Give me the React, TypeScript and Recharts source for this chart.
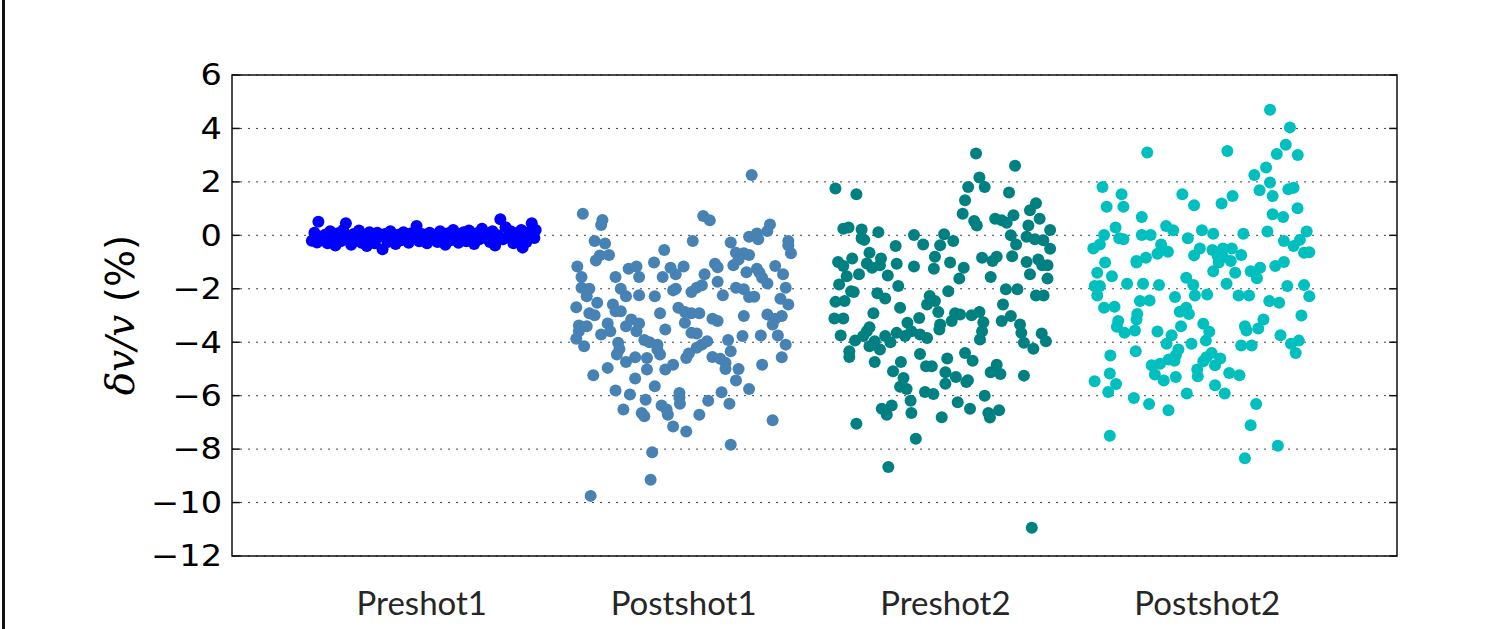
import { CartesianGrid, ReferenceArea, ReferenceLine, Scatter, ScatterChart, XAxis, YAxis } from 'recharts';

// group names, in x order
const groups = ['Preshot1', 'Postshot1', 'Preshot2', 'Postshot2'];
const colors = ['#0000ff', '#4682b4', '#008080', '#00bfbf'];
const yTicks = [-12, -10, -8, -6, -4, -2, 0, 2, 4, 6];
const xDomain: [number, number] = [0.275, 4.725];

// [jitter offset from group centre, δv/v %]
const preshot1: [number, number][] = [
  [-0.42, -0.2], [-0.41, 0.1], [-0.4, -0.27], [-0.395, 0.51], [-0.38, -0.05], [-0.37, 0.02], [-0.36, -0.3], [-0.35, 0.15],
  [-0.34, -0.12], [-0.33, -0.38], [-0.32, 0.08], [-0.31, -0.22], [-0.3, 0.2], [-0.29, 0.45], [-0.28, -0.1], [-0.27, -0.35],
  [-0.26, 0.05], [-0.25, -0.18], [-0.24, 0.18], [-0.23, -0.28], [-0.22, 0.0], [-0.21, -0.4], [-0.2, 0.12], [-0.19, -0.15],
  [-0.18, -0.3], [-0.17, 0.1], [-0.16, -0.05], [-0.15, -0.52], [-0.14, 0.05], [-0.13, -0.25], [-0.12, 0.15], [-0.11, -0.1],
  [-0.1, -0.32], [-0.09, 0.02], [-0.08, -0.18], [-0.07, 0.12], [-0.06, -0.05], [-0.05, -0.28], [-0.04, 0.08], [-0.03, -0.12],
  [-0.02, 0.35], [-0.01, -0.22], [0.0, 0.05], [0.01, -0.08], [0.02, -0.3], [0.03, 0.1], [0.04, -0.15], [0.05, 0.0],
  [0.06, -0.25], [0.07, 0.15], [0.08, -0.05], [0.09, -0.35], [0.1, 0.08], [0.11, -0.18], [0.12, 0.2], [0.13, -0.1],
  [0.14, -0.28], [0.15, 0.05], [0.16, 0.12], [0.17, -0.22], [0.18, 0.18], [0.19, -0.05], [0.2, -0.32], [0.21, 0.08],
  [0.22, -0.15], [0.23, 0.25], [0.24, -0.08], [0.25, 0.05], [0.26, -0.25], [0.27, 0.15], [0.28, -0.38], [0.29, 0.0],
  [0.3, 0.6], [0.31, -0.15], [0.32, 0.3], [0.33, -0.05], [0.34, 0.15], [0.35, -0.3], [0.36, 0.08], [0.37, -0.18],
  [0.38, 0.2], [0.385, -0.46], [0.39, 0.02], [0.4, -0.25], [0.41, 0.12], [0.42, 0.45], [0.43, -0.1], [0.435, 0.2],
];

const postshot1: [number, number][] = [
  [0.26, 2.26], [-0.385, 0.81], [-0.31, 0.57], [-0.315, 0.39], [0.075, 0.72], [0.1, 0.56], [0.33, 0.41], [0.32, 0.16],
  [0.28, 0.07], [0.25, -0.05], [0.285, -0.15], [-0.34, -0.21], [-0.3, -0.31], [0.035, -0.21], [0.18, -0.27], [0.4, -0.21],
  [0.4, -0.37], [0.41, -0.67], [-0.32, -0.75], [-0.285, -0.74], [-0.335, -0.94], [-0.074, -0.55], [0.2, -0.65], [0.23, -0.67],
  [0.25, -0.74], [0.21, -0.9], [0.19, -1.12], [-0.406, -1.17], [-0.113, -1.02], [-0.21, -1.25], [-0.18, -1.17], [-0.05, -1.21],
  [0.0, -1.17], [0.12, -1.06], [0.13, -1.19], [0.28, -1.25], [0.29, -1.4], [0.35, -1.15], [0.24, -1.38], [-0.39, -1.56],
  [-0.26, -1.56], [-0.17, -1.56], [-0.08, -1.56], [-0.03, -1.46], [0.08, -1.46], [0.13, -1.74], [0.3, -1.59], [0.32, -1.8],
  [0.38, -1.46], [0.39, -1.96], [-0.39, -1.96], [-0.36, -2.0], [-0.37, -2.28], [-0.24, -2.0], [-0.22, -2.28], [-0.17, -2.24],
  [-0.11, -2.28], [-0.04, -2.06], [-0.03, -2.0], [0.03, -2.12], [0.05, -1.96], [0.07, -1.87], [0.15, -2.24], [0.2, -1.96],
  [0.23, -2.02], [0.25, -2.31], [0.27, -2.3], [0.37, -2.37], [0.4, -2.59], [-0.41, -2.69], [-0.33, -2.52], [-0.36, -2.92],
  [-0.34, -2.99], [-0.27, -2.59], [-0.26, -2.84], [-0.24, -2.84], [-0.09, -2.92], [-0.02, -2.71], [0.005, -2.87], [0.03, -2.92],
  [0.06, -2.92], [0.005, -3.27], [0.11, -3.12], [0.13, -3.21], [0.23, -3.02], [0.32, -2.96], [0.35, -3.12], [0.375, -3.02],
  [0.34, -3.34], [-0.4, -3.37], [-0.37, -3.4], [-0.29, -3.3], [-0.2, -3.15], [-0.17, -3.3], [-0.22, -3.4], [-0.07, -3.52],
  [-0.41, -3.87], [-0.38, -4.15], [-0.4, -3.59], [-0.315, -3.71], [-0.28, -3.59], [-0.18, -3.59], [0.03, -3.65], [0.05, -3.67],
  [-0.25, -4.02], [-0.245, -4.25], [-0.255, -4.46], [-0.22, -4.74], [-0.185, -4.56], [-0.15, -3.92], [-0.13, -4.0], [-0.1, -4.09],
  [-0.1, -4.27], [-0.09, -4.46], [-0.14, -4.59], [-0.14, -5.02], [-0.345, -5.24], [-0.29, -4.96], [-0.185, -5.36], [-0.11, -5.65],
  [-0.07, -5.02], [-0.04, -4.84], [0.01, -4.59], [0.02, -4.42], [0.05, -4.21], [0.07, -4.09], [0.09, -3.96], [0.17, -3.92],
  [0.225, -3.77], [0.18, -4.34], [0.11, -4.55], [0.14, -4.62], [0.16, -4.77], [0.16, -5.0], [0.21, -5.0], [0.2, -5.43],
  [0.295, -3.75], [0.36, -3.75], [0.39, -4.09], [0.375, -4.56], [0.3, -4.84], [0.25, -5.75], [-0.26, -5.81], [-0.205, -5.96],
  [-0.145, -6.15], [-0.23, -6.52], [-0.16, -6.65], [-0.15, -6.77], [-0.084, -6.37], [-0.065, -6.52], [-0.06, -6.71], [-0.04, -7.15],
  [-0.016, -5.9], [-0.016, -6.07], [-0.014, -6.3], [0.01, -7.34], [0.06, -6.71], [0.094, -6.19], [0.145, -5.87], [0.175, -6.3],
  [0.18, -7.84], [0.34, -6.92], [-0.12, -8.12], [-0.126, -9.15], [-0.355, -9.75],
];

const preshot2: [number, number][] = [
  [0.117, 3.06], [0.266, 2.6], [0.13, 2.16], [0.087, 1.81], [0.15, 1.81], [-0.42, 1.75], [-0.34, 1.54], [0.243, 1.6],
  [0.075, 1.31], [0.346, 1.2], [0.323, 0.94], [0.066, 0.81], [0.19, 0.62], [0.215, 0.56], [0.234, 0.47], [0.26, 0.75],
  [0.36, 0.62], [0.11, 0.54], [0.12, 0.37], [0.317, 0.37], [0.4, 0.2], [-0.39, 0.25], [-0.37, 0.29], [-0.32, 0.22],
  [-0.256, 0.12], [-0.12, 0.01], [-0.005, 0.04], [0.25, 0.0], [0.31, -0.05], [0.342, -0.15], [0.374, -0.18], [0.4, -0.5],
  [-0.32, -0.12], [-0.31, -0.17], [-0.19, -0.4], [-0.085, -0.34], [-0.02, -0.37], [0.03, -0.21], [0.27, -0.34], [-0.29, -0.65],
  [-0.04, -0.8], [-0.356, -0.87], [-0.246, -0.87], [0.14, -0.84], [0.196, -0.8], [0.18, -0.96], [0.255, -0.78], [-0.41, -1.0],
  [-0.39, -1.15], [-0.3, -1.05], [-0.28, -1.21], [-0.25, -1.12], [-0.186, -1.06], [-0.12, -1.17], [-0.044, -1.25], [0.018, -1.02],
  [0.07, -1.21], [0.31, -1.0], [0.355, -0.9], [0.37, -1.12], [0.39, -1.12], [-0.377, -1.53], [-0.33, -1.46], [-0.22, -1.5],
  [0.053, -1.62], [0.173, -1.56], [0.323, -1.46], [0.39, -1.62], [-0.406, -1.84], [-0.18, -1.9], [-0.36, -2.09], [-0.35, -2.12],
  [-0.26, -2.17], [-0.23, -2.36], [0.011, -2.09], [0.231, -2.02], [0.275, -2.02], [0.346, -2.25], [0.375, -2.25], [-0.42, -2.49],
  [-0.385, -2.46], [-0.06, -2.27], [-0.04, -2.46], [-0.07, -2.59], [0.22, -2.59], [-0.173, -2.71], [-0.275, -2.92], [-0.027, -2.87],
  [-0.1, -3.09], [-0.424, -3.11], [-0.39, -3.11], [0.037, -2.92], [0.056, -2.96], [0.1, -2.99], [0.13, -2.87], [0.145, -3.25],
  [0.024, -3.21], [0.215, -3.21], [0.25, -3.02], [0.285, -3.34], [-0.29, -3.44], [-0.145, -3.27], [-0.02, -3.34],
  [-0.4, -3.75], [-0.345, -3.94], [-0.314, -3.77], [-0.3, -3.59], [-0.29, -4.15], [-0.27, -3.96], [-0.25, -4.27], [-0.23, -3.77],
  [-0.21, -4.0], [-0.186, -3.65], [-0.154, -3.77], [-0.13, -3.59], [-0.097, -3.71], [-0.07, -3.84], [-0.023, -3.52], [-0.367, -4.34],
  [-0.367, -4.55], [-0.27, -4.74], [-0.17, -4.74], [-0.2, -5.09], [-0.16, -5.34], [-0.173, -5.67], [-0.148, -5.75], [-0.097, -4.44],
  [-0.074, -4.9], [-0.052, -4.9], [0.007, -4.61], [0.0, -5.12], [0.0, -5.55], [0.04, -5.3], [0.075, -4.4], [0.104, -4.69],
  [0.08, -5.49], [0.086, -5.42], [0.132, -3.9], [0.14, -3.59], [0.173, -5.12], [0.196, -4.84], [0.21, -5.19], [0.29, -3.65],
  [0.3, -4.02], [0.336, -4.24], [0.368, -3.67], [0.384, -3.96], [0.3, -5.25], [-0.078, -5.86], [-0.046, -5.94], [0.15, -6.0],
  [-0.243, -6.49], [-0.224, -6.71], [-0.205, -6.37], [-0.133, -6.19], [-0.13, -6.65], [-0.014, -6.81], [0.047, -6.25], [0.094, -6.49],
  [0.164, -6.65], [0.17, -6.82], [0.205, -6.55], [-0.34, -7.05], [-0.113, -7.61], [-0.218, -8.67], [0.33, -10.94],
];

const postshot2: [number, number][] = [
  [0.24, 4.7], [0.316, 4.04], [0.3, 3.39], [0.266, 3.04], [0.346, 3.01], [-0.229, 3.1], [0.077, 3.16], [0.225, 2.54],
  [0.18, 2.26], [0.24, 1.98], [0.31, 1.72], [0.33, 1.78], [0.2, 1.69], [0.25, 1.47], [0.345, 1.01], [-0.4, 1.81],
  [-0.327, 1.54], [-0.384, 1.07], [-0.32, 1.07], [-0.095, 1.54], [-0.05, 1.13], [0.055, 1.19], [0.097, 1.47], [0.25, 0.79],
  [0.29, 0.69], [-0.25, 0.69], [-0.35, 0.29], [-0.157, 0.35], [-0.13, 0.19], [-0.02, 0.19], [0.023, 0.06], [0.138, 0.06],
  [0.23, 0.14], [0.38, 0.14], [-0.394, 0.01], [-0.25, 0.01], [-0.216, 0.01], [-0.074, -0.11], [-0.336, -0.11], [-0.32, -0.15],
  [-0.435, -0.49], [-0.41, -0.34], [-0.176, -0.34], [-0.19, -0.69], [-0.15, -0.61], [0.293, -0.21], [0.33, -0.4], [0.354, -0.17],
  [0.37, -0.65], [0.39, -0.63], [-0.05, -0.75], [-0.028, -0.49], [0.02, -0.55], [0.06, -0.49], [0.094, -0.49], [0.04, -0.77],
  [0.06, -0.8], [0.09, -0.96], [0.13, -0.74], [0.044, -1.02], [-0.39, -1.02], [-0.27, -0.96], [-0.27, -1.02], [-0.234, -0.84],
  [0.023, -1.34], [0.107, -1.4], [0.166, -1.34], [0.202, -1.21], [0.19, -1.61], [0.26, -1.15], [0.293, -1.0], [-0.42, -1.4],
  [-0.364, -1.53], [-0.306, -1.81], [-0.245, -1.81], [-0.184, -1.86], [-0.08, -1.59], [-0.053, -1.86], [0.074, -1.81], [0.306, -1.9],
  [0.37, -1.86], [-0.43, -1.9], [-0.41, -1.9],
  [-0.42, -2.25], [-0.394, -2.71], [-0.354, -2.67], [-0.257, -2.46], [-0.22, -2.44], [-0.123, -2.31], [-0.047, -2.25], [0.0, -2.21],
  [0.12, -2.25], [0.16, -2.25], [0.237, -2.46], [0.275, -2.52], [0.39, -2.28], [-0.105, -2.86], [-0.08, -2.71], [-0.07, -2.94],
  [-0.267, -2.94], [-0.27, -3.15], [-0.34, -3.21], [-0.345, -3.42], [-0.316, -3.65], [-0.276, -3.56], [-0.19, -3.6], [-0.136, -3.74],
  [-0.155, -4.06], [-0.1, -3.4], [-0.06, -4.06], [-0.015, -3.31], [0.008, -3.61], [-0.005, -3.94], [0.144, -3.4], [0.15, -3.56],
  [0.13, -4.12], [0.17, -4.12], [0.195, -3.49], [0.215, -3.15], [0.36, -3.0], [0.28, -3.74], [0.32, -4.06], [0.35, -3.94],
  [0.338, -4.4], [-0.37, -4.5], [-0.273, -4.34], [-0.212, -4.86], [-0.2, -5.21], [-0.18, -4.81], [-0.166, -5.43], [-0.147, -4.65],
  [-0.125, -4.69], [-0.12, -4.49], [-0.11, -4.27], [-0.12, -5.3], [-0.038, -5.02], [-0.036, -5.27], [-0.015, -4.71], [-0.003, -4.56],
  [0.017, -4.4], [0.03, -4.86], [0.05, -4.61], [0.084, -5.15], [0.123, -5.24], [0.03, -5.61], [0.067, -5.92], [-0.43, -5.46],
  [-0.372, -5.17], [-0.348, -5.56], [-0.378, -5.86], [-0.28, -6.09], [-0.222, -6.31], [-0.148, -6.55], [-0.078, -5.92], [0.187, -6.31],
  [0.166, -7.11], [-0.372, -7.5], [0.27, -7.87], [0.144, -8.34],
];

const series = [preshot1, postshot1, preshot2, postshot2];

const fmt = (v: number) => (v < 0 ? '\u2212' + Math.abs(v) : String(v));

function YTick({ x, y, payload }: any) {
  return (
    <text transform={`translate(${x},${y}) scale(1.12,1)`} textAnchor="end" dominantBaseline="central"
      fontSize={30} fontFamily="DejaVu Sans" fill="#000">
      {fmt(payload.value)}
    </text>
  );
}

function XTick({ x, y, payload }: any) {
  return (
    <text x={x} y={y + 44} textAnchor="middle" dominantBaseline="central" fontSize={33}
      fontFamily="Lato" fill="#262626">
      {groups[payload.value - 1]}
    </text>
  );
}

// short inward tick marks on both sides of the frame, like matplotlib
const tickLen = 0.03;

export default function App() {
  return (
    <div style={{ position: 'absolute', left: 0, top: 0, width: 1485, height: 629, background: '#fff' }}>
      <div style={{ position: 'absolute', left: 2, top: 0, width: 3, height: 629, background: '#111' }} />
      <ScatterChart width={1485} height={629} margin={{ top: 75, right: 88, bottom: 13, left: 0 }}>
        <CartesianGrid horizontal vertical={false} stroke="#444" strokeDasharray="2 6" />
        <XAxis type="number" dataKey="x" domain={xDomain} ticks={[1, 2, 3, 4]} allowDataOverflow
          axisLine={false} tickLine={false} tickSize={0} height={60} tick={<XTick />} />
        <YAxis type="number" dataKey="y" domain={[-12, 6]} ticks={yTicks} allowDataOverflow
          axisLine={false} tickLine={false} tickSize={0} tickMargin={10} width={232} tick={<YTick />} />
        {series.map((pts, i) => (
          <Scatter key={groups[i]} name={groups[i]} isAnimationActive={false}
            data={pts.map(([dx, v]) => ({ x: i + 1 + dx, y: v }))}
            shape={(p: any) => <circle cx={p.cx} cy={p.cy} r={6} fill={colors[i]} />} />
        ))}
        {yTicks.map((v) => (
          <ReferenceLine key={'l' + v} segment={[{ x: xDomain[0], y: v }, { x: xDomain[0] + tickLen, y: v }]}
            stroke="#111" strokeWidth={1.5} ifOverflow="visible" />
        ))}
        {yTicks.map((v) => (
          <ReferenceLine key={'r' + v} segment={[{ x: xDomain[1] - tickLen, y: v }, { x: xDomain[1], y: v }]}
            stroke="#111" strokeWidth={1.5} ifOverflow="visible" />
        ))}
        <ReferenceArea x1={xDomain[0]} x2={xDomain[1]} y1={-12} y2={6} fill="none" stroke="#111" strokeWidth={1.5} ifOverflow="visible" />
      </ScatterChart>
      <div style={{ position: 'absolute', left: 120, top: 315, transform: 'translate(-50%,-50%) rotate(-90deg)',
        whiteSpace: 'nowrap', fontSize: 39, color: '#000', lineHeight: 1 }}>
        <span style={{ fontFamily: 'DejaVu Serif', fontStyle: 'italic' }}>δv/v</span>
        <span style={{ fontFamily: 'DejaVu Sans' }}> (%)</span>
      </div>
    </div>
  );
}
